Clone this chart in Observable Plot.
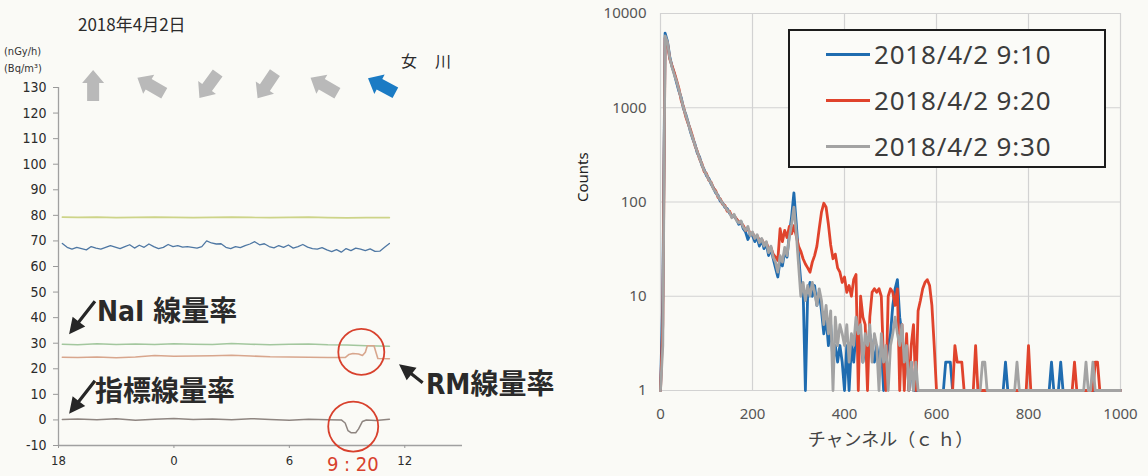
<!DOCTYPE html>
<html><head><meta charset="utf-8">
<script src="https://cdn.jsdelivr.net/npm/d3@7"></script>
<script src="https://cdn.jsdelivr.net/npm/@observablehq/plot@0.6"></script>
<style>
html,body{margin:0;padding:0;background:#fafaf6;}
#wrap{position:relative;width:1148px;height:476px;overflow:hidden;background:#fafaf6;}
#left,#right{position:absolute;top:0;}
#left{left:0;} #right{left:565px;}
.lbl{position:absolute;white-space:nowrap;line-height:1;color:#2b2b2b;}
#title{left:78px;top:11px;font:17px "Noto Sans CJK JP",sans-serif;}
.unit{left:4px;font:11px "DejaVu Sans Condensed","DejaVu Sans",sans-serif;font-stretch:condensed;color:#333;}
#site{left:401px;top:48px;font:16px "Noto Sans CJK JP",sans-serif;letter-spacing:1px;}
#legend{position:absolute;left:788px;top:29px;width:318px;height:139px;box-sizing:border-box;border:2px solid #1c1c1c;background:#fbfbf8;}
.lrow{position:absolute;left:0;width:314px;height:30px;}
.lsw{position:absolute;left:36px;top:14px;width:44px;height:3px;}
.ltx{position:absolute;left:84px;top:0;white-space:nowrap;font:26px "Noto Sans","Open Sans",sans-serif;color:#3c3c3c;letter-spacing:0.8px;line-height:30px;}
</style></head><body>
<div id="wrap">
  <div id="left"></div>
  <div id="right"></div>
  <div class="lbl" id="title">2018年4月2日</div>
  <div class="lbl unit" style="top:45px">(nGy/h)</div>
  <div class="lbl unit" style="top:62px">(Bq/m³)</div>
  <div class="lbl" id="site">女　川</div>
  <div id="legend"></div>
</div>
<script>
// ---------------- Left panel: dose-rate trend (hours after 18:00) ----------------
const hourTicks = [0, 6, 12, 18];
const hourLabels = ["18", "0", "6", "12"];
const doseTicks = [-10, 0, 10, 20, 30, 40, 50, 60, 70, 80, 90, 100, 110, 120, 130];

// wind direction arrows (hours after 18:00, rotation in degrees clockwise from north)
const windHours = [1.8, 4.8, 7.8, 10.8, 13.8, 16.8];
const windRotate = [0, -60, -144, -146, -60, -62];

// blue noisy trace, sampled every 15 min starting 18:12
const blueValues = [69,67.5,66.8,67.5,67,66.5,67.8,67.2,66.8,67.5,
  68.2,67.6,67,67.8,68.5,67.2,68.3,67.5,68.8,67.8,
  67,67.5,68.6,67.8,68.2,67.6,67.8,67.5,67.2,67.8,
  70,69.2,68.8,68.9,67.5,67,67.8,67.4,68.2,68.8,
  69.7,68.5,68.9,67.8,67.3,68.2,67.5,68.4,67.2,67.8,
  68.6,67.6,67,66.8,67.4,66.5,65.8,66.6,65.6,67,
  66.2,67.2,66.8,66.2,66.9,65.9,66,67.5,69];
const blueHours = blueValues.map((_, k) => 0.2 + 0.25 * k);

const upperHours = [0.2,1,2,3,4,5,6,7,8,9,10,11,12,13,14,15,16,17.2];
const upperValues = [79.3,79.2,79.3,79.1,79.2,79.3,79.2,79.1,79.2,79.3,79.2,79.1,79.2,79.3,79.1,79.0,79.1,79.1];

const naiHours = [0.2,1,2,3,4,5,6,7,8,9,10,11,12,13,14,15,16,17.2];
const naiValues = [29.6,29.4,29.8,29.5,29.7,29.5,29.8,29.6,29.5,29.9,29.6,29.4,29.6,29.7,29.4,29.3,29.0,28.8];

const rmHours = [0.2,1,2,3,4,5,6,7,8,9,10,11,12,13,14,14.9,15.1,15.3,15.6,15.8,15.95,16.05,16.4,16.5,16.6,17.2];
const rmValues = [24.5,24.4,24.6,24.3,24.6,25.2,24.9,25.0,25.1,25.3,25.0,24.7,24.6,24.5,24.4,24.4,25.6,26.0,25.8,25.2,26.5,29.0,29.0,26.5,24.0,23.9];

const indHours = [0.2,1,2,3,4,5,6,7,8,9,10,11,12,13,14,14.7,14.9,15.05,15.2,15.45,15.6,15.8,16.0,16.5,17.2];
const indValues = [0.2,0.4,0.1,0.5,-0.1,0.3,0.6,0.2,0.4,0.1,0.5,0.2,-0.1,0.3,0.1,0,-1.2,-4.2,-5,-5,-3.5,-0.6,0,-0.2,0.3];

// annotations
const labelTexts = ["NaI 線量率", "指標線量率", "RM線量率"];
const eventLabel = "9 : 20";

// ---------------- Right panel: gamma spectra ----------------
const seriesNames = ["2018/4/2 9:10", "2018/4/2 9:20", "2018/4/2 9:30"];
const seriesColors = ["#1f6cb0", "#e0432c", "#a3a3a3"];
const channelTicks = [0, 200, 400, 600, 800, 1000];
const countTicks = [1, 10, 100, 1000, 10000];
const channels = d3.range(0, 1001, 5);

const counts0910 = [1,10,6200,5100,3500,2750,2300,1850,1500,1280,
  980,850,700,560,470,410,330,300,245,220,
  190,178,155,142,125,118,102,98,88,85,
  76,72,70,66,58,62,52,48,40,46,
  44,38,42,34,40,32,36,27,32,25,
  20,16,24,21,30,26,45,70,125,60,
  28,14,12,1,11,14,10,13,8,11,
  7,4,6,3,5,2,3,2,3,2,
  1,3,1,3,2,4,3,4,2,3,
  2,4,3,2,3,2,3,1,2,3,
  4,8,12,15,6,4,2,3,1,2,
  1,1,1,1,1,1,1,1,1,1,
  1,1,1,1,2,2,2,1,1,1,
  1,1,1,1,1,1,1,1,1,1,
  1,1,1,1,1,1,1,1,1,1,
  2,1,1,1,1,1,1,1,1,1,
  1,1,1,1,1,1,1,1,1,1,
  2,1,1,1,2,1,1,1,1,1,
  1,1,1,1,1,1,1,1,1,1,
  1,1,1,1,1,1,1,1,1,1,
  1];

const counts0920 = [1,5,5500,4900,3300,2800,2350,1950,1600,1200,
  1020,800,680,590,490,395,345,285,255,210,
  200,170,162,140,132,112,108,95,92,80,
  80,70,72,66,62,60,56,50,52,46,
  47,42,44,39,40,36,37,32,33,28,
  26,24,52,38,50,42,55,46,56,44,
  34,30,25,22,20,18,23,27,34,52,
  78,97,88,58,35,25,28,20,18,14,
  16,11,13,10,15,17,1,10,6,5,
  1,6,11,12,11,12,10,2,1,10,
  12,11,8,12,1,5,1,4,1,3,
  5,1,7,9,12,14,15,13,8,3,
  1,1,1,1,1,1,1,1,3,2,
  2,2,1,1,1,1,1,3,1,1,
  1,1,1,1,1,1,1,1,1,1,
  1,1,1,1,1,1,1,1,1,1,
  3,1,1,1,1,1,1,1,1,1,
  1,1,1,1,1,1,1,1,1,1,
  2,1,1,1,1,1,1,1,1,2,
  2,1,1,1,1,1,1,1,1,1,
  1];

const counts0930 = [1,3,5800,5000,3400,2700,2250,1900,1550,1250,
  1000,830,690,570,480,400,340,290,250,215,
  195,172,160,138,128,115,106,96,90,82,
  78,68,74,64,60,63,54,50,55,44,
  48,41,45,37,41,34,38,29,34,26,
  23,18,27,23,33,27,42,58,88,48,
  22,10,14,9,13,10,14,11,8,12,
  9,5,8,4,7,1,6,3,5,4,
  3,5,2,4,3,6,4,5,2,4,
  3,5,2,4,3,1,4,2,3,1,
  3,4,6,4,3,5,2,3,1,2,
  1,2,1,1,1,1,1,1,1,1,
  1,1,1,1,1,1,1,1,1,1,
  1,1,1,1,1,1,1,1,1,1,
  2,2,1,1,1,1,1,1,1,1,
  1,1,1,1,1,2,1,1,1,1,
  1,1,1,1,1,1,1,1,1,1,
  1,1,1,1,1,1,1,1,1,1,
  1,1,1,1,1,2,1,1,2,1,
  1,1,1,1,1,1,1,1,1,1,
  1];

// ---------------- build ----------------
const narrow = '"DejaVu Sans Condensed","DejaVu Sans",sans-serif';
const cjkBold = '"DejaVu Sans Condensed","Noto Sans CJK JP",sans-serif';

const blockArrow = {draw(ctx, l) {
  const sw = 6, hw = 11, hl = 13;
  ctx.moveTo(-sw, 0); ctx.lineTo(-sw, -l + hl); ctx.lineTo(-hw, -l + hl);
  ctx.lineTo(0, -l); ctx.lineTo(hw, -l + hl); ctx.lineTo(sw, -l + hl);
  ctx.lineTo(sw, 0); ctx.closePath();
}};
const pointer = {draw(ctx, l) {
  const sw = 1.6, hw = 8, hl = 16;
  ctx.moveTo(-sw, 0); ctx.lineTo(-sw, -l + hl); ctx.lineTo(-hw, -l + hl);
  ctx.lineTo(0, -l); ctx.lineTo(hw, -l + hl); ctx.lineTo(sw, -l + hl);
  ctx.lineTo(sw, 0); ctx.closePath();
}};

const toRows = (hs, vs) => hs.map((h, i) => ({h, v: vs[i]}));
const wind = windHours.map((h, i) => ({h, v: 130.8, a: windRotate[i], last: i === windHours.length - 1}));

const annotations = [
  {h: 2.0, v: 42, t: labelTexts[0]},
  {h: 1.9, v: 11, t: labelTexts[1]},
  {h: 19.1, v: 13.5, t: labelTexts[2]}
];
const pointers = [
  {h: 0.55, v: 33.5, a: -142},
  {h: 0.55, v: 2.4, a: -142},
  {h: 17.7, v: 21.8, a: -52}
];

const left = Plot.plot({
  width: 565, height: 476,
  marginLeft: 58, marginRight: 103, marginTop: 87, marginBottom: 31,
  x: {domain: [0, 21]},
  y: {domain: [-10, 130]},
  style: {background: "transparent", fontFamily: narrow, fontStretch: "condensed", color: "#2b2b2b"},
  marks: [
    Plot.ruleY([-10], {stroke: "#a0a0a0", strokeWidth: 1.3}),
    Plot.ruleX([0], {stroke: "#a0a0a0", strokeWidth: 1.3}),
    Plot.axisY({ticks: doseTicks, tickFormat: d => String(d), tickSize: 5, tickPadding: 7, fontSize: 14, label: null, stroke: "#999"}),
    Plot.axisX({ticks: hourTicks, tickFormat: d => hourLabels[hourTicks.indexOf(d)], tickSize: 3, tickPadding: 7, fontSize: 13, label: null, stroke: "#999"}),
    Plot.line(toRows(upperHours, upperValues), {x: "h", y: "v", stroke: "#cdd488", strokeWidth: 1.6}),
    Plot.line(toRows(blueHours, blueValues), {x: "h", y: "v", stroke: "#4e77a3", strokeWidth: 1.3}),
    Plot.line(toRows(naiHours, naiValues), {x: "h", y: "v", stroke: "#a3c79e", strokeWidth: 1.6}),
    Plot.line(toRows(rmHours, rmValues), {x: "h", y: "v", stroke: "#d8a68d", strokeWidth: 1.6}),
    Plot.line(toRows(indHours, indValues), {x: "h", y: "v", stroke: "#8e8580", strokeWidth: 1.5}),
    Plot.vector(wind.filter(d => !d.last), {x: "h", y: "v", rotate: "a", length: 31, shape: blockArrow, fill: "#b9b9b9", stroke: "none"}),
    Plot.vector(wind.filter(d => d.last), {x: "h", y: "v", rotate: "a", length: 31, shape: blockArrow, fill: "#1b7bc4", stroke: "none"}),
    Plot.dot([{h: 15.74, v: 26.6}], {x: "h", y: "v", r: 23, stroke: "#d8412d", strokeWidth: 1.8, fill: "none"}),
    Plot.dot([{h: 15.32, v: -2.6}], {x: "h", y: "v", r: 25, stroke: "#d8412d", strokeWidth: 1.8, fill: "none"}),
    Plot.vector(pointers.slice(0, 2), {x: "h", y: "v", rotate: "a", length: 42, anchor: "end", shape: pointer, fill: "#262626", stroke: "none"}),
    Plot.vector(pointers.slice(2), {x: "h", y: "v", rotate: "a", length: 30, anchor: "end", shape: pointer, fill: "#262626", stroke: "none"}),
    Plot.text(annotations, {x: "h", y: "v", text: "t", textAnchor: "start", fontSize: 28, fontWeight: "bold", fill: "#2a2a2a", fontFamily: cjkBold}),
    Plot.text([{h: 15.3, t: eventLabel}], {x: "h", y: () => -10, dy: 19, text: "t", fontSize: 20, fill: "#d8412d", fontFamily: narrow})
  ]
});
document.getElementById("left").appendChild(left);

const spectra = seriesNames.map((name, s) => {
  const c = [counts0910, counts0920, counts0930][s];
  return channels.map((ch, i) => ({ch, n: c[i], s: name}));
});

const right = Plot.plot({
  width: 583, height: 476,
  marginLeft: 95, marginRight: 28, marginTop: 13, marginBottom: 86,
  x: {domain: [0, 1000]},
  y: {type: "log", domain: [1, 10000]},
  style: {background: "transparent", fontFamily: '"Noto Sans","Open Sans",sans-serif', color: "#555"},
  marks: [
    Plot.gridX({ticks: channelTicks, stroke: "#d2d2d2", strokeOpacity: 1, strokeWidth: 1.2}),
    Plot.gridY({ticks: countTicks, stroke: "#d2d2d2", strokeOpacity: 1, strokeWidth: 1.2}),
    Plot.axisX({ticks: channelTicks, tickFormat: d => String(d), tickSize: 0, tickPadding: 18, fontSize: 15, label: null}),
    Plot.axisY({ticks: countTicks, tickFormat: d => String(d), tickSize: 0, tickPadding: 14, fontSize: 15, label: null}),
    ...spectra.map((rows, s) => Plot.line(rows, {x: "ch", y: "n", stroke: seriesColors[s], strokeWidth: 2.8, strokeLinejoin: "round"})),
    Plot.text(["Counts"], {frameAnchor: "left", rotate: -90, dx: -77, fontSize: 15, fill: "#222", fontFamily: '"Noto Sans",sans-serif'}),
    Plot.text(["チャンネル（ｃ ｈ）"], {frameAnchor: "bottom", dy: 55, fontSize: 18, fill: "#444", fontFamily: '"Noto Sans CJK JP",sans-serif'})
  ]
});
document.getElementById("right").appendChild(right);

// legend
const legend = document.getElementById("legend");
seriesNames.forEach((name, s) => {
  const row = document.createElement("div");
  row.className = "lrow";
  row.style.top = (8 + s * 46) + "px";
  row.innerHTML = `<div class="lsw" style="background:${seriesColors[s]}"></div><div class="ltx">${name}</div>`;
  legend.appendChild(row);
});
</script>
</body></html>
